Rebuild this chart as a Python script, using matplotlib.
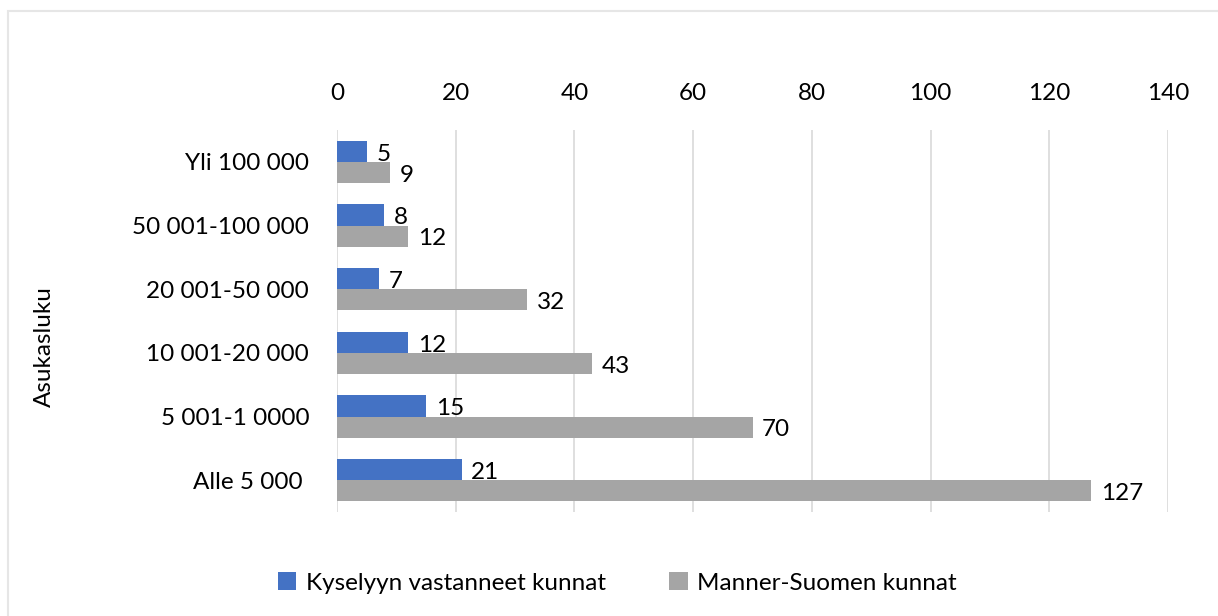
import matplotlib.pyplot as plt
import numpy as np
from matplotlib.patches import Rectangle

categories = ["Yli 100 000", "50 001-100 000", "20 001-50 000",
              "10 001-20 000", "5 001-1 0000", "Alle 5 000 "]
responded = [5, 8, 7, 12, 15, 21]
mainland = [9, 12, 32, 43, 70, 127]
series_names = ["Kyselyyn vastanneet kunnat", "Manner-Suomen kunnat"]
x_ticks = [0, 20, 40, 60, 80, 100, 120, 140]

plt.rcParams["font.family"] = ["Lato", "DejaVu Sans"]
FS = 17.5

fig = plt.figure(figsize=(12.18, 6.16), dpi=100)
ax = fig.add_axes([337 / 1218, 1 - 512 / 616, (1168 - 337) / 1218, (512 - 130) / 616])

# outer light border (Excel chart area)
fig.patches.append(Rectangle((8 / 1218, -0.05), 1.1, 1.05 - 11 / 616,
                             transform=fig.transFigure, fill=False,
                             edgecolor="#e6e6e6", linewidth=1.5))

y = np.arange(len(categories))
h = 0.33
b1 = ax.barh(y - h / 2, responded, height=h, color="#4472C4", label=series_names[0])
b2 = ax.barh(y + h / 2, mainland, height=h, color="#A5A5A5", label=series_names[1])

for bars, vals in [(b1, responded), (b2, mainland)]:
    for bar, v in zip(bars, vals):
        ax.annotate(str(v), (bar.get_width(), bar.get_y() + bar.get_height() / 2),
                    xytext=(7, -2), textcoords="offset points",
                    va="center", ha="left", fontsize=FS)

ax.set_ylim(len(categories) - 0.5, -0.5)
ax.set_xlim(0, 140)
ax.set_xticks(x_ticks)
ax.set_yticks(y)
ax.set_yticklabels(categories, fontsize=FS)
ax.xaxis.tick_top()
ax.tick_params(axis="x", labelsize=FS, length=0, pad=19)
ax.tick_params(axis="y", length=0, pad=20)
ax.grid(axis="x", color="#d9d9d9", linewidth=1.2)
ax.set_axisbelow(True)
for s in ax.spines.values():
    s.set_visible(False)

fig.text(44 / 1218, 1 - 347 / 616, "Asukasluku", rotation=90,
         ha="center", va="center", fontsize=FS)

fig.legend(handles=[b1, b2], loc="center", bbox_to_anchor=(0.507, 1 - 583 / 616),
           ncol=2, frameon=False, fontsize=FS, handlelength=0.75, handleheight=0.75,
           columnspacing=2.6, handletextpad=0.4)

fig.savefig("out.png", dpi=100)
